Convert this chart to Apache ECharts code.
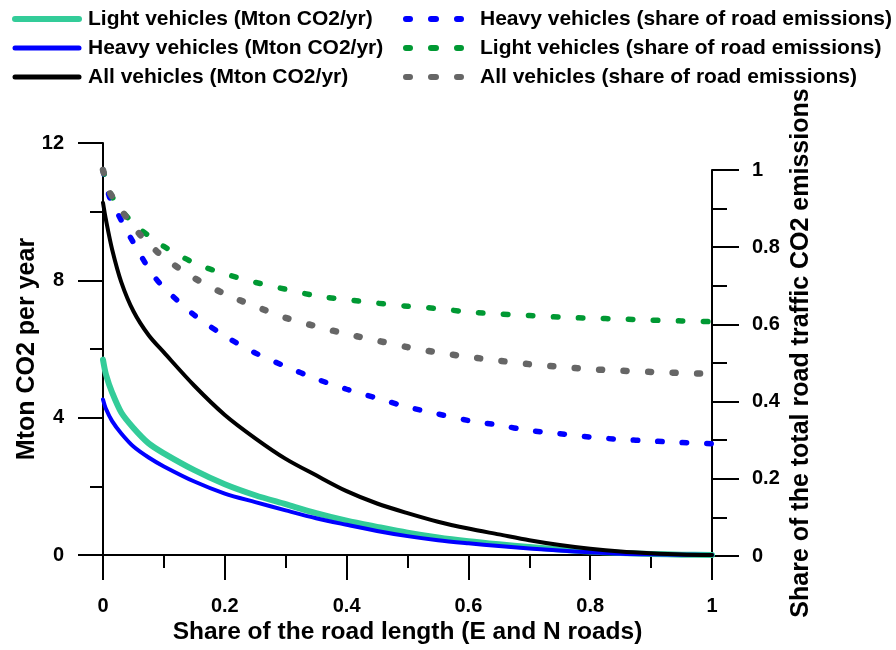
<!DOCTYPE html>
<html>
<head>
<meta charset="utf-8">
<script src="https://cdn.jsdelivr.net/npm/echarts@6/dist/echarts.min.js"></script>
<style>
html,body{margin:0;padding:0;background:#fff;}
#chart{width:896px;height:650px;}
</style>
</head>
<body>
<div id="chart"></div>
<script>
// ---- data ----
const mtonX = [0, 0.005, 0.015, 0.03, 0.05, 0.075, 0.1, 0.15, 0.2, 0.25, 0.3, 0.35, 0.4, 0.45, 0.5, 0.55, 0.6, 0.65, 0.7, 0.75, 0.8, 0.85, 0.9, 0.95, 1];
const lightMton = [5.69, 5.25, 4.73, 4.15, 3.7, 3.25, 2.96, 2.47, 2.06, 1.74, 1.48, 1.22, 1.0, 0.82, 0.65, 0.51, 0.4, 0.31, 0.23, 0.16, 0.1, 0.06, 0.03, 0.01, 0];
const heavyMton = [4.53, 4.25, 3.9, 3.54, 3.16, 2.84, 2.58, 2.14, 1.79, 1.54, 1.3, 1.07, 0.88, 0.7, 0.55, 0.43, 0.34, 0.26, 0.19, 0.13, 0.08, 0.04, 0.02, 0.01, 0];
const allMton = [10.26, 9.75, 8.9, 7.95, 7.1, 6.4, 5.9, 4.93, 4.08, 3.4, 2.8, 2.32, 1.86, 1.5, 1.22, 0.97, 0.77, 0.6, 0.43, 0.29, 0.18, 0.1, 0.05, 0.015, 0];

const shareX = [0, 0.01, 0.02, 0.04, 0.06, 0.08, 0.1, 0.15, 0.2, 0.25, 0.3, 0.35, 0.4, 0.45, 0.5, 0.55, 0.6, 0.65, 0.7, 0.75, 0.8, 0.85, 0.9, 0.95, 1];
const heavyShare = [1.0, 0.933, 0.9, 0.84, 0.784, 0.733, 0.695, 0.624, 0.57, 0.526, 0.491, 0.459, 0.432, 0.409, 0.386, 0.368, 0.351, 0.339, 0.325, 0.317, 0.308, 0.302, 0.298, 0.294, 0.291];
const lightShare = [1.0, 0.948, 0.918, 0.878, 0.848, 0.824, 0.802, 0.759, 0.731, 0.709, 0.691, 0.674, 0.664, 0.655, 0.647, 0.641, 0.632, 0.627, 0.623, 0.619, 0.616, 0.614, 0.611, 0.609, 0.607];
const allShare = [1.0, 0.945, 0.92, 0.874, 0.834, 0.802, 0.773, 0.72, 0.679, 0.647, 0.617, 0.595, 0.575, 0.558, 0.541, 0.527, 0.516, 0.506, 0.497, 0.49, 0.484, 0.48, 0.477, 0.474, 0.472];

const names = {
  lightMton: 'Light vehicles (Mton CO2/yr)',
  heavyMton: 'Heavy vehicles (Mton CO2/yr)',
  allMton: 'All vehicles (Mton CO2/yr)',
  heavyShare: 'Heavy vehicles (share of road emissions)',
  lightShare: 'Light vehicles (share of road emissions)',
  allShare: 'All vehicles (share of road emissions)'
};

const colors = {teal: '#33cc99', blue: '#0000ff', black: '#000000', green: '#009933', gray: '#666666'};
const FONT = '"Liberation Sans", Arial, sans-serif';

function pairs(xs, ys) { return xs.map((x, i) => [x, ys[i]]); }

const chart = echarts.init(document.getElementById('chart'), null, {renderer: 'canvas'});

const axisLineStyle = {color: '#000', width: 2};
const labelStyle = {color: '#000', fontFamily: FONT, fontWeight: 'bold', fontSize: 20};
const titleStyle = {color: '#000', fontFamily: FONT, fontWeight: 'bold', fontSize: 25};

function solid(name, data, color, width, z) {
  return {name, type: 'line', xAxisIndex: 0, yAxisIndex: 0, data, symbol: 'none',
    smooth: 0.3, clip: false, z,
    lineStyle: {color, width, cap: 'round', join: 'round'}, itemStyle: {color}};
}
function dotted(name, data, color, width, dash, z) {
  return {name, type: 'line', xAxisIndex: 1, yAxisIndex: 1, data, symbol: 'none',
    smooth: 0.3, clip: false, z,
    lineStyle: {color, width, type: dash, cap: 'round', join: 'round'}, itemStyle: {color}};
}

// legend icon for the dotted series: three rounded dashes
const dotIcon = 'path://M3,0H7A3,3 0 0 1 7,6H3A3,3 0 0 1 3,0Z M28,0H33A3,3 0 0 1 33,6H28A3,3 0 0 1 28,0Z M54,0H58A3,3 0 0 1 58,6H54A3,3 0 0 1 54,0Z';

const legendText = {color: '#000', fontFamily: FONT, fontWeight: 'bold', fontSize: 21, lineHeight: 22};

const option = {
  animation: false,
  backgroundColor: '#fff',
  legend: [
    {
      left: 12, top: 8, padding: 0, orient: 'vertical', selectedMode: false,
      itemWidth: 64, itemHeight: 14, itemGap: 7,
      itemStyle: {opacity: 0},
      textStyle: Object.assign({padding: [0, 0, 0, 4]}, legendText),
      data: [
        {name: names.lightMton, lineStyle: {color: colors.teal, width: 6, type: 'solid'}},
        {name: names.heavyMton, lineStyle: {color: colors.blue, width: 5, type: 'solid'}},
        {name: names.allMton, lineStyle: {color: colors.black, width: 5, type: 'solid'}}
      ]
    },
    {
      left: 403, top: 8, padding: 0, orient: 'vertical', selectedMode: false,
      itemWidth: 61, itemHeight: 6, itemGap: 7, symbolKeepAspect: false,
      textStyle: Object.assign({padding: [0, 0, 0, 11]}, legendText),
      data: [
        {name: names.heavyShare, icon: dotIcon, itemStyle: {color: colors.blue, opacity: 1, borderWidth: 0}},
        {name: names.lightShare, icon: dotIcon, itemStyle: {color: colors.green, opacity: 1, borderWidth: 0}},
        {name: names.allShare, icon: dotIcon, itemStyle: {color: colors.gray, opacity: 1, borderWidth: 0}}
      ]
    }
  ],
  grid: [
    {left: 103, right: 184, top: 143, bottom: 94, containLabel: false},
    {left: 103, right: 184, top: 170, bottom: 94, containLabel: false}
  ],
  xAxis: [
    {
      type: 'value', gridIndex: 0, min: 0, max: 1, interval: 0.2,
      name: 'Share of the road length (E and N roads)', nameLocation: 'middle', nameGap: 65,
      nameMoveOverlap: false,
      nameTextStyle: Object.assign({}, titleStyle, {fontSize: 24.5}),
      axisLine: {show: true, onZero: false, lineStyle: axisLineStyle},
      axisTick: {show: true, length: 25, lineStyle: {color: '#000', width: 2}},
      minorTick: {show: true, splitNumber: 2, length: 13, lineStyle: {color: '#000', width: 2}},
      axisLabel: Object.assign({margin: 41}, labelStyle),
      splitLine: {show: false}, minorSplitLine: {show: false}
    },
    {
      type: 'value', gridIndex: 1, min: 0, max: 1, show: false,
      splitLine: {show: false}
    }
  ],
  yAxis: [
    {
      type: 'value', gridIndex: 0, min: 0, max: 12, interval: 4, position: 'left',
      name: 'Mton CO2 per year', nameLocation: 'middle', nameGap: 63,
      nameMoveOverlap: false,
      nameTextStyle: titleStyle,
      axisLine: {show: true, onZero: false, lineStyle: axisLineStyle},
      axisTick: {show: true, length: 25, lineStyle: {color: '#000', width: 2}},
      minorTick: {show: true, splitNumber: 2, length: 13, lineStyle: {color: '#000', width: 2}},
      axisLabel: Object.assign({margin: 39}, labelStyle),
      splitLine: {show: false}, minorSplitLine: {show: false}
    },
    {
      type: 'value', gridIndex: 1, min: 0, max: 1, interval: 0.2, position: 'right',
      name: 'Share of the total road traffic CO2 emissions', nameLocation: 'middle', nameGap: 77,
      nameMoveOverlap: false,
      nameTextStyle: Object.assign({padding: [0, 0, 0, 20]}, titleStyle),
      axisLine: {show: true, onZero: false, lineStyle: axisLineStyle},
      axisTick: {show: true, length: 27, lineStyle: {color: '#000', width: 2}},
      minorTick: {show: true, splitNumber: 2, length: 15, lineStyle: {color: '#000', width: 2}},
      axisLabel: Object.assign({margin: 40}, labelStyle),
      splitLine: {show: false}, minorSplitLine: {show: false}
    }
  ],
  series: [
    solid(names.lightMton, pairs(mtonX, lightMton), colors.teal, 6, 2),
    solid(names.heavyMton, pairs(mtonX, heavyMton), colors.blue, 4, 3),
    solid(names.allMton, pairs(mtonX, allMton), colors.black, 4, 4),
    dotted(names.heavyShare, pairs(shareX, heavyShare), colors.blue, 5.5, [4.5, 20], 5),
    dotted(names.lightShare, pairs(shareX, lightShare), colors.green, 5.5, [4.5, 20.5], 6),
    dotted(names.allShare, pairs(shareX, allShare), colors.gray, 6.5, [3, 21.5], 7)
  ]
};

chart.setOption(option);
</script>
</body>
</html>
